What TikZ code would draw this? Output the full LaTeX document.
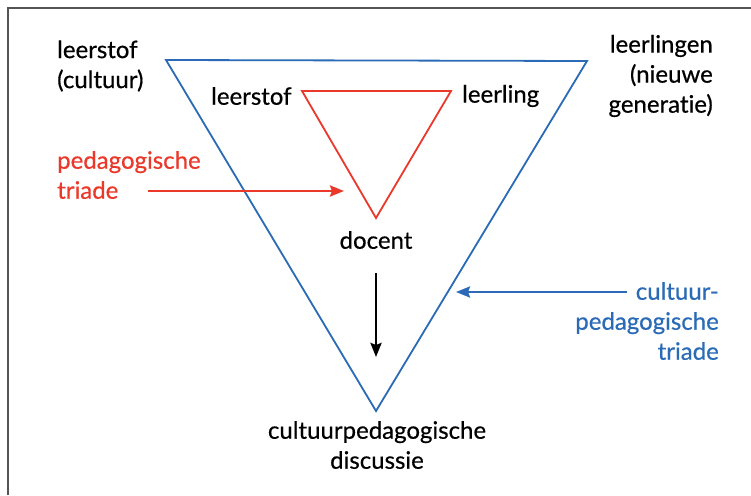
\documentclass[tikz,border=0pt]{standalone}
\usepackage{fontspec}
\setmainfont{Lato}[Ligatures=NoCommon, FakeBold=0.5]
\usetikzlibrary{arrows.meta}
\definecolor{tred}{RGB}{234,56,42}
\definecolor{tblue}{RGB}{42,106,182}
\definecolor{frame}{RGB}{85,85,85}
\tikzset{
  lbl/.style={inner sep=0pt, font=\fontsize{24}{30}\selectfont},
  tri/.style={line width=1.8pt, line join=miter},
  arr/.style={line width=2.6pt, -{Stealth[length=14pt,width=11pt,inset=2pt]}},
}
\begin{document}
\begin{tikzpicture}[x=1pt,y=-1pt]
\useasboundingbox (0,0) rectangle (751,495);
\fill[white] (0,0) rectangle (751,495);
% frame
\draw[frame, line width=2pt] (8,495) -- (8,8) -- (751,8);
% blue triangle
\coordinate (B1) at (166,60);
\coordinate (B2) at (587,61);
\coordinate (B3) at (376,411);
\draw[tri, tblue] (B1) -- (B2) -- (B3) -- cycle;
% red triangle
\coordinate (R1) at (302,91);
\coordinate (R2) at (451,91);
\coordinate (R3) at (376,218);
\draw[tri, tred] (R1) -- (R2) -- (R3) -- cycle;
% labels
\node[lbl, anchor=west, align=left] (cult) at (57,66) {leerstof\\(cultuur)};
\node[lbl, anchor=east, align=right] (gen) at (713,76) {leerlingen\\(nieuwe\\generatie)};
\node[lbl, anchor=west] (ls) at (211,96) {leerstof};
\node[lbl, anchor=west] (ll) at (462,96) {leerling};
\node[lbl, anchor=west, align=left, text=tred] (pt) at (57,175) {pedagogische\\triade};
\node[lbl] (doc) at (376,240) {docent};
\node[lbl, align=center] (disc) at (377,445) {cultuurpedagogische\\discussie};
\node[lbl, anchor=east, align=right, text=tblue] (cpt) at (719,321) {cultuur-\\pedagogische\\triade};
% arrows
\coordinate (ra1) at (148,191);
\coordinate (ra2) at (344,191);
\draw[arr, tred] (ra1) -- (ra2);
\coordinate (ba1) at (627,292);
\coordinate (ba2) at (456,292);
\draw[arr, tblue] (ba1) -- (ba2);
\coordinate (ka1) at (376,273);
\coordinate (ka2) at (376,357);
\draw[arr, black] (ka1) -- (ka2);
\end{tikzpicture}
\end{document}
